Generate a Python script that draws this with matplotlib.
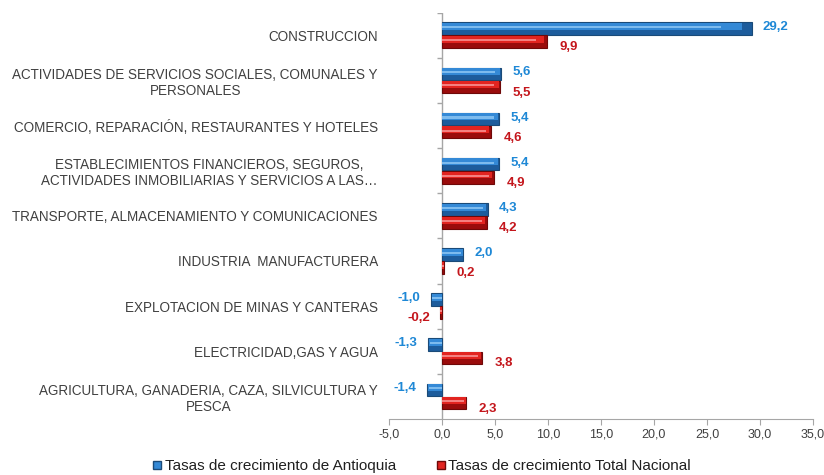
import matplotlib
matplotlib.use("Agg")
import matplotlib.pyplot as plt
import numpy as np
from matplotlib.lines import Line2D

categories = [
    "CONSTRUCCION",
    "ACTIVIDADES DE SERVICIOS SOCIALES, COMUNALES Y\nPERSONALES",
    "COMERCIO, REPARACIÓN, RESTAURANTES Y HOTELES",
    "ESTABLECIMIENTOS FINANCIEROS, SEGUROS,\nACTIVIDADES INMOBILIARIAS Y SERVICIOS A LAS…",
    "TRANSPORTE, ALMACENAMIENTO Y COMUNICACIONES",
    "INDUSTRIA  MANUFACTURERA",
    "EXPLOTACION DE MINAS Y CANTERAS",
    "ELECTRICIDAD,GAS Y AGUA",
    "AGRICULTURA, GANADERIA, CAZA, SILVICULTURA Y\nPESCA",
]
antioquia = [29.2, 5.6, 5.4, 5.4, 4.3, 2.0, -1.0, -1.3, -1.4]
nacional = [9.9, 5.5, 4.6, 4.9, 4.2, 0.2, -0.2, 3.8, 2.3]
series_names = ["Tasas de crecimiento de Antioquia", "Tasas de crecimiento Total Nacional"]
xticks = [-5, 0, 5, 10, 15, 20, 25, 30, 35]

plt.rcParams["font.family"] = ["Liberation Sans", "DejaVu Sans"]

fig = plt.figure(figsize=(8.24, 4.75), dpi=100)
ax = fig.add_axes([389 / 824, 1 - 419 / 475, (813 - 389) / 824, (419 - 12.7) / 475])

y = np.arange(len(categories))
h = 0.28
off = 0.145

blue_dark = "#1D5C9C"
blue_face = "#3489D6"
blue_edge = "#1A4A78"
blue_hi = "#7DBBEE"
red_dark = "#9A0C0C"
red_face = "#E22420"
red_edge = "#6E0808"
red_hi = "#F48080"
blue_txt = "#1E88D6"
red_txt = "#C4161C"

A = np.array(antioquia)
N = np.array(nacional)

# base (darker lower part) bars
ax.barh(y - off, A, height=h, color=blue_dark, edgecolor=blue_edge, linewidth=0.8, zorder=3)
ax.barh(y + off, N, height=h, color=red_dark, edgecolor=red_edge, linewidth=0.8, zorder=3)
# brighter upper part
ax.barh(y - off - h * 0.18, A * 0.97, height=h * 0.55, color=blue_face, linewidth=0, zorder=4)
ax.barh(y + off - h * 0.18, N * 0.97, height=h * 0.55, color=red_face, linewidth=0, zorder=4)
# highlight stripes for a bevelled look
ax.barh(y - off - h * 0.12, A * 0.9, height=0.045, color=blue_hi, linewidth=0, zorder=5)
ax.barh(y + off - h * 0.12, N * 0.9, height=0.045, color=red_hi, linewidth=0, zorder=5)

ax.set_xlim(-5, 35)
ax.set_ylim(len(categories) - 0.5, -0.5)

# value labels
for yi, v in zip(y, antioquia):
    dx = 8 if v >= 0 else -8
    ax.annotate(f"{v:.1f}".replace(".", ","), xy=(v, yi - off), xytext=(dx, 1),
                textcoords="offset points", ha="left" if v >= 0 else "right", va="center",
                fontsize=9.5, fontweight="bold", color=blue_txt, zorder=6)
for yi, v in zip(y, nacional):
    dx = 9 if v >= 0 else -7
    ax.annotate(f"{v:.1f}".replace(".", ","), xy=(v, yi + off), xytext=(dx, -4),
                textcoords="offset points", ha="left" if v >= 0 else "right", va="center",
                fontsize=9.5, fontweight="bold", color=red_txt, zorder=6)

# axes styling
for s in ["top", "right", "left"]:
    ax.spines[s].set_visible(False)
ax.spines["bottom"].set_color("#A6A6A6")
ax.axvline(0, color="#A6A6A6", linewidth=1, zorder=2)
ax.hlines(np.arange(len(categories)) - 0.5, -0.45, 0, color="#A6A6A6", linewidth=1, zorder=2)

ax.set_yticks(y)
ax.set_yticklabels(categories, multialignment="center")
ax.tick_params(axis="y", length=0, pad=8, labelsize=9.75, labelcolor="#404040")
ax.set_xticks(xticks)
ax.set_xticklabels([f"{t:.1f}".replace(".", ",") for t in xticks])
ax.tick_params(axis="x", length=4, color="#A6A6A6", labelsize=9, labelcolor="#404040", pad=3)

handles = [
    Line2D([], [], marker="s", linestyle="", markersize=6, markerfacecolor=blue_face, markeredgecolor=blue_edge),
    Line2D([], [], marker="s", linestyle="", markersize=6, markerfacecolor=red_face, markeredgecolor=red_edge),
]
fig.legend(handles, series_names, loc="center", bbox_to_anchor=(0.512, 1 - 466 / 475), ncol=2,
           frameon=False, fontsize=11, handlelength=0.6, handletextpad=0.2, columnspacing=2.6,
           labelcolor="#202020")

fig.savefig("out.png", dpi=100)
